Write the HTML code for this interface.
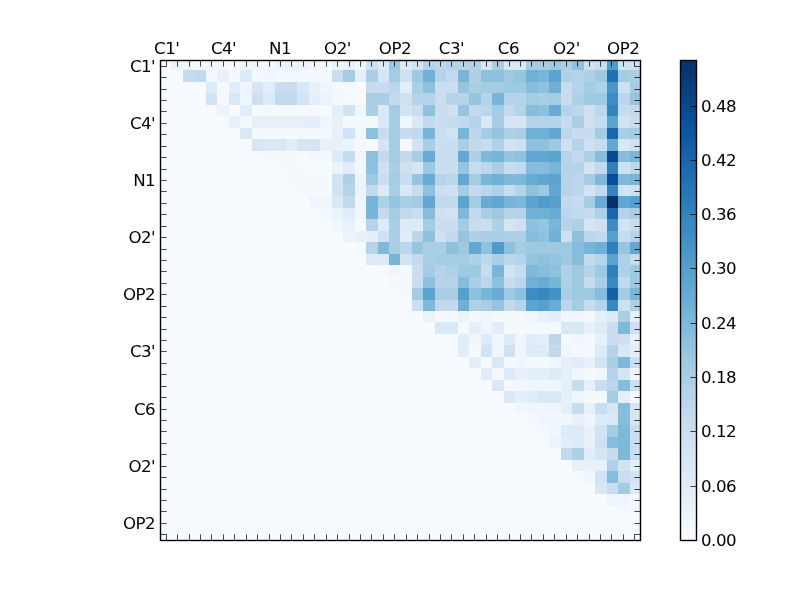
<!DOCTYPE html>
<html><head><meta charset="utf-8"><title>Contact map</title>
<style>
html,body{margin:0;padding:0;background:#fff;}
body{width:800px;height:600px;overflow:hidden;}
svg{display:block;}
text{font-family:"DejaVu Sans","Liberation Sans",sans-serif;font-size:16.67px;fill:#000;letter-spacing:-0.5px;}
</style></head>
<body>
<svg width="800" height="600" viewBox="0 0 800 600">
<defs><linearGradient id="cb" x1="0" y1="0" x2="0" y2="1"><stop offset="0.0000" stop-color="#08306b"/><stop offset="0.1250" stop-color="#08509b"/><stop offset="0.2500" stop-color="#2070b4"/><stop offset="0.3750" stop-color="#4191c6"/><stop offset="0.5000" stop-color="#6aaed6"/><stop offset="0.6250" stop-color="#9dcae1"/><stop offset="0.7500" stop-color="#c6dbef"/><stop offset="0.8750" stop-color="#deebf7"/><stop offset="1.0000" stop-color="#f7fbff"/></linearGradient></defs>
<rect width="800" height="600" fill="#ffffff"/>
<g shape-rendering="crispEdges">
<rect x="160" y="60" width="480" height="480" fill="#f7fbff"/>
<rect x="171" y="60" width="12" height="10" fill="#ecf4fb"/>
<rect x="183" y="60" width="11" height="10" fill="#f0f6fd"/>
<rect x="194" y="60" width="12" height="10" fill="#f4f9fe"/>
<rect x="206" y="60" width="11" height="10" fill="#f0f6fd"/>
<rect x="217" y="60" width="23" height="10" fill="#f4f9fe"/>
<rect x="240" y="60" width="23" height="10" fill="#f0f6fd"/>
<rect x="263" y="60" width="12" height="10" fill="#f4f9fe"/>
<rect x="275" y="60" width="34" height="10" fill="#ecf4fb"/>
<rect x="309" y="60" width="11" height="10" fill="#f0f6fd"/>
<rect x="320" y="60" width="12" height="10" fill="#f4f9fe"/>
<rect x="332" y="60" width="11" height="10" fill="#ecf4fb"/>
<rect x="343" y="60" width="12" height="10" fill="#e8f1fa"/>
<rect x="355" y="60" width="11" height="10" fill="#f0f6fd"/>
<rect x="366" y="60" width="12" height="10" fill="#cee0f2"/>
<rect x="378" y="60" width="11" height="10" fill="#ddeaf7"/>
<rect x="389" y="60" width="11" height="10" fill="#9dcae1"/>
<rect x="400" y="60" width="12" height="10" fill="#ddeaf7"/>
<rect x="412" y="60" width="11" height="10" fill="#d2e3f3"/>
<rect x="423" y="60" width="12" height="10" fill="#b5d4e9"/>
<rect x="435" y="60" width="11" height="10" fill="#bcd7eb"/>
<rect x="446" y="60" width="23" height="10" fill="#b5d4e9"/>
<rect x="469" y="60" width="12" height="10" fill="#afd1e7"/>
<rect x="481" y="60" width="11" height="10" fill="#d6e5f4"/>
<rect x="492" y="60" width="12" height="10" fill="#aacfe5"/>
<rect x="504" y="60" width="22" height="10" fill="#d9e8f5"/>
<rect x="526" y="60" width="23" height="10" fill="#a4cce3"/>
<rect x="549" y="60" width="12" height="10" fill="#9dcae1"/>
<rect x="561" y="60" width="11" height="10" fill="#aacfe5"/>
<rect x="572" y="60" width="12" height="10" fill="#8dc1dd"/>
<rect x="584" y="60" width="11" height="10" fill="#cee0f2"/>
<rect x="595" y="60" width="12" height="10" fill="#c7dcef"/>
<rect x="607" y="60" width="11" height="10" fill="#4f9bcb"/>
<rect x="618" y="60" width="23" height="10" fill="#cee0f2"/>
<rect x="183" y="70" width="11" height="12" fill="#c7dcef"/>
<rect x="194" y="70" width="12" height="12" fill="#c2d9ee"/>
<rect x="206" y="70" width="11" height="12" fill="#f4f9fe"/>
<rect x="217" y="70" width="12" height="12" fill="#e8f1fa"/>
<rect x="229" y="70" width="11" height="12" fill="#f4f9fe"/>
<rect x="240" y="70" width="12" height="12" fill="#ddeaf7"/>
<rect x="252" y="70" width="11" height="12" fill="#f4f9fe"/>
<rect x="263" y="70" width="12" height="12" fill="#f0f6fd"/>
<rect x="275" y="70" width="57" height="12" fill="#f4f9fe"/>
<rect x="332" y="70" width="11" height="12" fill="#cbdef1"/>
<rect x="343" y="70" width="12" height="12" fill="#a4cce3"/>
<rect x="355" y="70" width="11" height="12" fill="#e4eff9"/>
<rect x="366" y="70" width="12" height="12" fill="#aacfe5"/>
<rect x="378" y="70" width="11" height="12" fill="#d6e5f4"/>
<rect x="389" y="70" width="11" height="12" fill="#a4cce3"/>
<rect x="400" y="70" width="12" height="12" fill="#cee0f2"/>
<rect x="412" y="70" width="11" height="12" fill="#9dcae1"/>
<rect x="423" y="70" width="12" height="12" fill="#6fb0d7"/>
<rect x="435" y="70" width="11" height="12" fill="#b5d4e9"/>
<rect x="446" y="70" width="12" height="12" fill="#c2d9ee"/>
<rect x="458" y="70" width="11" height="12" fill="#77b5d9"/>
<rect x="469" y="70" width="12" height="12" fill="#afd1e7"/>
<rect x="481" y="70" width="23" height="12" fill="#8dc1dd"/>
<rect x="504" y="70" width="11" height="12" fill="#9dcae1"/>
<rect x="515" y="70" width="11" height="12" fill="#95c5df"/>
<rect x="526" y="70" width="12" height="12" fill="#6fb0d7"/>
<rect x="538" y="70" width="11" height="12" fill="#77b5d9"/>
<rect x="549" y="70" width="12" height="12" fill="#5ca4d0"/>
<rect x="561" y="70" width="11" height="12" fill="#afd1e7"/>
<rect x="572" y="70" width="12" height="12" fill="#b5d4e9"/>
<rect x="584" y="70" width="11" height="12" fill="#afd1e7"/>
<rect x="595" y="70" width="12" height="12" fill="#9dcae1"/>
<rect x="607" y="70" width="11" height="12" fill="#2070b4"/>
<rect x="618" y="70" width="12" height="12" fill="#a4cce3"/>
<rect x="630" y="70" width="11" height="12" fill="#aacfe5"/>
<rect x="206" y="82" width="11" height="11" fill="#ddeaf7"/>
<rect x="217" y="82" width="12" height="11" fill="#f4f9fe"/>
<rect x="229" y="82" width="11" height="11" fill="#e1edf8"/>
<rect x="240" y="82" width="12" height="11" fill="#f0f6fd"/>
<rect x="252" y="82" width="11" height="11" fill="#d6e5f4"/>
<rect x="263" y="82" width="12" height="11" fill="#e1edf8"/>
<rect x="275" y="82" width="11" height="11" fill="#cbdef1"/>
<rect x="286" y="82" width="11" height="11" fill="#c7dcef"/>
<rect x="297" y="82" width="12" height="11" fill="#d9e8f5"/>
<rect x="309" y="82" width="11" height="11" fill="#e8f1fa"/>
<rect x="320" y="82" width="12" height="11" fill="#f0f6fd"/>
<rect x="332" y="82" width="23" height="11" fill="#f4f9fe"/>
<rect x="366" y="82" width="23" height="11" fill="#c7dcef"/>
<rect x="389" y="82" width="11" height="11" fill="#bcd7eb"/>
<rect x="400" y="82" width="12" height="11" fill="#e1edf8"/>
<rect x="412" y="82" width="11" height="11" fill="#aacfe5"/>
<rect x="423" y="82" width="12" height="11" fill="#8dc1dd"/>
<rect x="435" y="82" width="23" height="11" fill="#cbdef1"/>
<rect x="458" y="82" width="11" height="11" fill="#95c5df"/>
<rect x="469" y="82" width="12" height="11" fill="#aacfe5"/>
<rect x="481" y="82" width="23" height="11" fill="#a4cce3"/>
<rect x="504" y="82" width="22" height="11" fill="#9dcae1"/>
<rect x="526" y="82" width="12" height="11" fill="#87bddc"/>
<rect x="538" y="82" width="11" height="11" fill="#8dc1dd"/>
<rect x="549" y="82" width="12" height="11" fill="#6fb0d7"/>
<rect x="561" y="82" width="11" height="11" fill="#c7dcef"/>
<rect x="572" y="82" width="12" height="11" fill="#b5d4e9"/>
<rect x="584" y="82" width="11" height="11" fill="#a4cce3"/>
<rect x="595" y="82" width="12" height="11" fill="#afd1e7"/>
<rect x="607" y="82" width="11" height="11" fill="#4997c9"/>
<rect x="618" y="82" width="12" height="11" fill="#cee0f2"/>
<rect x="630" y="82" width="11" height="11" fill="#a4cce3"/>
<rect x="206" y="93" width="11" height="12" fill="#d2e3f3"/>
<rect x="217" y="93" width="12" height="12" fill="#f4f9fe"/>
<rect x="229" y="93" width="11" height="12" fill="#d9e8f5"/>
<rect x="240" y="93" width="12" height="12" fill="#f0f6fd"/>
<rect x="252" y="93" width="11" height="12" fill="#cee0f2"/>
<rect x="263" y="93" width="12" height="12" fill="#ddeaf7"/>
<rect x="275" y="93" width="22" height="12" fill="#c2d9ee"/>
<rect x="297" y="93" width="12" height="12" fill="#d2e3f3"/>
<rect x="309" y="93" width="11" height="12" fill="#e4eff9"/>
<rect x="320" y="93" width="12" height="12" fill="#ecf4fb"/>
<rect x="332" y="93" width="11" height="12" fill="#f4f9fe"/>
<rect x="366" y="93" width="23" height="12" fill="#aacfe5"/>
<rect x="389" y="93" width="11" height="12" fill="#c2d9ee"/>
<rect x="400" y="93" width="12" height="12" fill="#cee0f2"/>
<rect x="412" y="93" width="23" height="12" fill="#b5d4e9"/>
<rect x="435" y="93" width="11" height="12" fill="#cbdef1"/>
<rect x="446" y="93" width="23" height="12" fill="#b5d4e9"/>
<rect x="469" y="93" width="12" height="12" fill="#95c5df"/>
<rect x="481" y="93" width="11" height="12" fill="#b5d4e9"/>
<rect x="492" y="93" width="12" height="12" fill="#77b5d9"/>
<rect x="504" y="93" width="22" height="12" fill="#b5d4e9"/>
<rect x="526" y="93" width="12" height="12" fill="#a4cce3"/>
<rect x="538" y="93" width="11" height="12" fill="#aacfe5"/>
<rect x="549" y="93" width="12" height="12" fill="#a4cce3"/>
<rect x="561" y="93" width="11" height="12" fill="#c7dcef"/>
<rect x="572" y="93" width="12" height="12" fill="#afd1e7"/>
<rect x="584" y="93" width="23" height="12" fill="#9dcae1"/>
<rect x="607" y="93" width="11" height="12" fill="#3d8dc4"/>
<rect x="618" y="93" width="12" height="12" fill="#bcd7eb"/>
<rect x="630" y="93" width="11" height="12" fill="#95c5df"/>
<rect x="217" y="105" width="12" height="11" fill="#ecf4fb"/>
<rect x="240" y="105" width="12" height="11" fill="#e1edf8"/>
<rect x="252" y="105" width="68" height="11" fill="#f4f9fe"/>
<rect x="332" y="105" width="11" height="11" fill="#e4eff9"/>
<rect x="343" y="105" width="12" height="11" fill="#d2e3f3"/>
<rect x="355" y="105" width="11" height="11" fill="#f0f6fd"/>
<rect x="366" y="105" width="12" height="11" fill="#aacfe5"/>
<rect x="378" y="105" width="11" height="11" fill="#d9e8f5"/>
<rect x="389" y="105" width="11" height="11" fill="#a4cce3"/>
<rect x="400" y="105" width="12" height="11" fill="#d2e3f3"/>
<rect x="412" y="105" width="11" height="11" fill="#cbdef1"/>
<rect x="423" y="105" width="12" height="11" fill="#8dc1dd"/>
<rect x="435" y="105" width="11" height="11" fill="#cbdef1"/>
<rect x="446" y="105" width="12" height="11" fill="#cee0f2"/>
<rect x="458" y="105" width="11" height="11" fill="#95c5df"/>
<rect x="469" y="105" width="12" height="11" fill="#c2d9ee"/>
<rect x="481" y="105" width="11" height="11" fill="#bcd7eb"/>
<rect x="492" y="105" width="12" height="11" fill="#a4cce3"/>
<rect x="504" y="105" width="11" height="11" fill="#c2d9ee"/>
<rect x="515" y="105" width="11" height="11" fill="#b5d4e9"/>
<rect x="526" y="105" width="12" height="11" fill="#87bddc"/>
<rect x="538" y="105" width="11" height="11" fill="#8dc1dd"/>
<rect x="549" y="105" width="12" height="11" fill="#68acd5"/>
<rect x="561" y="105" width="11" height="11" fill="#b5d4e9"/>
<rect x="572" y="105" width="12" height="11" fill="#bcd7eb"/>
<rect x="584" y="105" width="11" height="11" fill="#cee0f2"/>
<rect x="595" y="105" width="12" height="11" fill="#bcd7eb"/>
<rect x="607" y="105" width="11" height="11" fill="#3484bf"/>
<rect x="618" y="105" width="12" height="11" fill="#c7dcef"/>
<rect x="630" y="105" width="11" height="11" fill="#c2d9ee"/>
<rect x="229" y="116" width="11" height="12" fill="#e8f1fa"/>
<rect x="240" y="116" width="12" height="12" fill="#f4f9fe"/>
<rect x="252" y="116" width="45" height="12" fill="#e8f1fa"/>
<rect x="297" y="116" width="23" height="12" fill="#e4eff9"/>
<rect x="320" y="116" width="12" height="12" fill="#f0f6fd"/>
<rect x="332" y="116" width="11" height="12" fill="#e8f1fa"/>
<rect x="343" y="116" width="35" height="12" fill="#f4f9fe"/>
<rect x="378" y="116" width="11" height="12" fill="#d9e8f5"/>
<rect x="389" y="116" width="11" height="12" fill="#a4cce3"/>
<rect x="400" y="116" width="12" height="12" fill="#f0f6fd"/>
<rect x="412" y="116" width="11" height="12" fill="#d9e8f5"/>
<rect x="423" y="116" width="12" height="12" fill="#c2d9ee"/>
<rect x="435" y="116" width="11" height="12" fill="#cbdef1"/>
<rect x="446" y="116" width="12" height="12" fill="#c7dcef"/>
<rect x="458" y="116" width="11" height="12" fill="#c2d9ee"/>
<rect x="469" y="116" width="12" height="12" fill="#b5d4e9"/>
<rect x="481" y="116" width="11" height="12" fill="#d9e8f5"/>
<rect x="492" y="116" width="12" height="12" fill="#a4cce3"/>
<rect x="504" y="116" width="22" height="12" fill="#d6e5f4"/>
<rect x="526" y="116" width="35" height="12" fill="#b5d4e9"/>
<rect x="561" y="116" width="11" height="12" fill="#c7dcef"/>
<rect x="572" y="116" width="12" height="12" fill="#aacfe5"/>
<rect x="584" y="116" width="11" height="12" fill="#cee0f2"/>
<rect x="595" y="116" width="12" height="12" fill="#c7dcef"/>
<rect x="607" y="116" width="11" height="12" fill="#5ca4d0"/>
<rect x="618" y="116" width="12" height="12" fill="#d2e3f3"/>
<rect x="630" y="116" width="11" height="12" fill="#c7dcef"/>
<rect x="240" y="128" width="12" height="11" fill="#d9e8f5"/>
<rect x="252" y="128" width="80" height="11" fill="#f4f9fe"/>
<rect x="332" y="128" width="11" height="11" fill="#e8f1fa"/>
<rect x="343" y="128" width="12" height="11" fill="#d2e3f3"/>
<rect x="355" y="128" width="11" height="11" fill="#f0f6fd"/>
<rect x="366" y="128" width="12" height="11" fill="#8dc1dd"/>
<rect x="378" y="128" width="11" height="11" fill="#c7dcef"/>
<rect x="389" y="128" width="11" height="11" fill="#a4cce3"/>
<rect x="400" y="128" width="12" height="11" fill="#c7dcef"/>
<rect x="412" y="128" width="11" height="11" fill="#c2d9ee"/>
<rect x="423" y="128" width="12" height="11" fill="#77b5d9"/>
<rect x="435" y="128" width="11" height="11" fill="#cbdef1"/>
<rect x="446" y="128" width="12" height="11" fill="#d2e3f3"/>
<rect x="458" y="128" width="11" height="11" fill="#77b5d9"/>
<rect x="469" y="128" width="12" height="11" fill="#bcd7eb"/>
<rect x="481" y="128" width="11" height="11" fill="#a4cce3"/>
<rect x="492" y="128" width="12" height="11" fill="#95c5df"/>
<rect x="504" y="128" width="11" height="11" fill="#afd1e7"/>
<rect x="515" y="128" width="11" height="11" fill="#aacfe5"/>
<rect x="526" y="128" width="23" height="11" fill="#6fb0d7"/>
<rect x="549" y="128" width="12" height="11" fill="#61a7d2"/>
<rect x="561" y="128" width="11" height="11" fill="#bcd7eb"/>
<rect x="572" y="128" width="23" height="11" fill="#c7dcef"/>
<rect x="595" y="128" width="12" height="11" fill="#a4cce3"/>
<rect x="607" y="128" width="11" height="11" fill="#1966ad"/>
<rect x="618" y="128" width="12" height="11" fill="#aacfe5"/>
<rect x="630" y="128" width="11" height="11" fill="#a4cce3"/>
<rect x="252" y="139" width="11" height="12" fill="#d6e5f4"/>
<rect x="263" y="139" width="23" height="12" fill="#d9e8f5"/>
<rect x="286" y="139" width="11" height="12" fill="#e1edf8"/>
<rect x="297" y="139" width="23" height="12" fill="#d6e5f4"/>
<rect x="320" y="139" width="23" height="12" fill="#e8f1fa"/>
<rect x="343" y="139" width="12" height="12" fill="#ecf4fb"/>
<rect x="355" y="139" width="11" height="12" fill="#f4f9fe"/>
<rect x="378" y="139" width="11" height="12" fill="#d6e5f4"/>
<rect x="389" y="139" width="11" height="12" fill="#a4cce3"/>
<rect x="400" y="139" width="12" height="12" fill="#f4f9fe"/>
<rect x="412" y="139" width="11" height="12" fill="#d2e3f3"/>
<rect x="423" y="139" width="12" height="12" fill="#aacfe5"/>
<rect x="435" y="139" width="23" height="12" fill="#cbdef1"/>
<rect x="458" y="139" width="11" height="12" fill="#aacfe5"/>
<rect x="469" y="139" width="12" height="12" fill="#c2d9ee"/>
<rect x="481" y="139" width="11" height="12" fill="#c7dcef"/>
<rect x="492" y="139" width="12" height="12" fill="#afd1e7"/>
<rect x="504" y="139" width="11" height="12" fill="#d2e3f3"/>
<rect x="515" y="139" width="11" height="12" fill="#cee0f2"/>
<rect x="526" y="139" width="23" height="12" fill="#8dc1dd"/>
<rect x="549" y="139" width="12" height="12" fill="#9dcae1"/>
<rect x="561" y="139" width="11" height="12" fill="#cee0f2"/>
<rect x="572" y="139" width="12" height="12" fill="#b5d4e9"/>
<rect x="584" y="139" width="11" height="12" fill="#cee0f2"/>
<rect x="595" y="139" width="12" height="12" fill="#c7dcef"/>
<rect x="607" y="139" width="11" height="12" fill="#61a7d2"/>
<rect x="618" y="139" width="12" height="12" fill="#d9e8f5"/>
<rect x="630" y="139" width="11" height="12" fill="#cee0f2"/>
<rect x="263" y="151" width="34" height="11" fill="#f4f9fe"/>
<rect x="309" y="151" width="23" height="11" fill="#f4f9fe"/>
<rect x="332" y="151" width="11" height="11" fill="#ddeaf7"/>
<rect x="343" y="151" width="12" height="11" fill="#c7dcef"/>
<rect x="355" y="151" width="11" height="11" fill="#f0f6fd"/>
<rect x="366" y="151" width="12" height="11" fill="#8dc1dd"/>
<rect x="378" y="151" width="11" height="11" fill="#c2d9ee"/>
<rect x="389" y="151" width="11" height="11" fill="#a4cce3"/>
<rect x="400" y="151" width="12" height="11" fill="#c2d9ee"/>
<rect x="412" y="151" width="11" height="11" fill="#aacfe5"/>
<rect x="423" y="151" width="12" height="11" fill="#68acd5"/>
<rect x="435" y="151" width="11" height="11" fill="#c7dcef"/>
<rect x="446" y="151" width="12" height="11" fill="#cbdef1"/>
<rect x="458" y="151" width="11" height="11" fill="#61a7d2"/>
<rect x="469" y="151" width="12" height="11" fill="#afd1e7"/>
<rect x="481" y="151" width="11" height="11" fill="#7fb9da"/>
<rect x="492" y="151" width="12" height="11" fill="#77b5d9"/>
<rect x="504" y="151" width="11" height="11" fill="#95c5df"/>
<rect x="515" y="151" width="11" height="11" fill="#8dc1dd"/>
<rect x="526" y="151" width="23" height="11" fill="#61a7d2"/>
<rect x="549" y="151" width="12" height="11" fill="#5ca4d0"/>
<rect x="561" y="151" width="11" height="11" fill="#b5d4e9"/>
<rect x="572" y="151" width="12" height="11" fill="#c2d9ee"/>
<rect x="584" y="151" width="11" height="11" fill="#afd1e7"/>
<rect x="595" y="151" width="12" height="11" fill="#87bddc"/>
<rect x="607" y="151" width="11" height="11" fill="#084990"/>
<rect x="618" y="151" width="12" height="11" fill="#87bddc"/>
<rect x="630" y="151" width="11" height="11" fill="#77b5d9"/>
<rect x="275" y="162" width="34" height="12" fill="#f4f9fe"/>
<rect x="332" y="162" width="11" height="12" fill="#ecf4fb"/>
<rect x="343" y="162" width="12" height="12" fill="#e1edf8"/>
<rect x="355" y="162" width="11" height="12" fill="#f0f6fd"/>
<rect x="366" y="162" width="12" height="12" fill="#8dc1dd"/>
<rect x="378" y="162" width="11" height="12" fill="#cee0f2"/>
<rect x="389" y="162" width="11" height="12" fill="#aacfe5"/>
<rect x="400" y="162" width="12" height="12" fill="#cee0f2"/>
<rect x="412" y="162" width="11" height="12" fill="#d6e5f4"/>
<rect x="423" y="162" width="12" height="12" fill="#9dcae1"/>
<rect x="435" y="162" width="23" height="12" fill="#cbdef1"/>
<rect x="458" y="162" width="11" height="12" fill="#95c5df"/>
<rect x="469" y="162" width="12" height="12" fill="#c7dcef"/>
<rect x="481" y="162" width="11" height="12" fill="#bcd7eb"/>
<rect x="492" y="162" width="12" height="12" fill="#aacfe5"/>
<rect x="504" y="162" width="11" height="12" fill="#c7dcef"/>
<rect x="515" y="162" width="11" height="12" fill="#c2d9ee"/>
<rect x="526" y="162" width="23" height="12" fill="#87bddc"/>
<rect x="549" y="162" width="12" height="12" fill="#77b5d9"/>
<rect x="561" y="162" width="23" height="12" fill="#b5d4e9"/>
<rect x="584" y="162" width="11" height="12" fill="#d2e3f3"/>
<rect x="595" y="162" width="12" height="12" fill="#c2d9ee"/>
<rect x="607" y="162" width="11" height="12" fill="#2f7fbc"/>
<rect x="618" y="162" width="12" height="12" fill="#cee0f2"/>
<rect x="630" y="162" width="11" height="12" fill="#bcd7eb"/>
<rect x="286" y="174" width="46" height="11" fill="#f4f9fe"/>
<rect x="332" y="174" width="11" height="11" fill="#d2e3f3"/>
<rect x="343" y="174" width="12" height="11" fill="#afd1e7"/>
<rect x="355" y="174" width="11" height="11" fill="#ecf4fb"/>
<rect x="366" y="174" width="12" height="11" fill="#9dcae1"/>
<rect x="378" y="174" width="11" height="11" fill="#cbdef1"/>
<rect x="389" y="174" width="11" height="11" fill="#a4cce3"/>
<rect x="400" y="174" width="12" height="11" fill="#cbdef1"/>
<rect x="412" y="174" width="11" height="11" fill="#95c5df"/>
<rect x="423" y="174" width="12" height="11" fill="#68acd5"/>
<rect x="435" y="174" width="11" height="11" fill="#b5d4e9"/>
<rect x="446" y="174" width="12" height="11" fill="#bcd7eb"/>
<rect x="458" y="174" width="11" height="11" fill="#61a7d2"/>
<rect x="469" y="174" width="12" height="11" fill="#a4cce3"/>
<rect x="481" y="174" width="11" height="11" fill="#77b5d9"/>
<rect x="492" y="174" width="12" height="11" fill="#6fb0d7"/>
<rect x="504" y="174" width="22" height="11" fill="#7fb9da"/>
<rect x="526" y="174" width="12" height="11" fill="#68acd5"/>
<rect x="538" y="174" width="11" height="11" fill="#61a7d2"/>
<rect x="549" y="174" width="12" height="11" fill="#5ca4d0"/>
<rect x="561" y="174" width="11" height="11" fill="#b5d4e9"/>
<rect x="572" y="174" width="12" height="11" fill="#bcd7eb"/>
<rect x="584" y="174" width="11" height="11" fill="#a4cce3"/>
<rect x="595" y="174" width="12" height="11" fill="#7fb9da"/>
<rect x="607" y="174" width="11" height="11" fill="#084e98"/>
<rect x="618" y="174" width="12" height="11" fill="#7fb9da"/>
<rect x="630" y="174" width="11" height="11" fill="#77b5d9"/>
<rect x="297" y="185" width="35" height="11" fill="#f4f9fe"/>
<rect x="332" y="185" width="11" height="11" fill="#d2e3f3"/>
<rect x="343" y="185" width="12" height="11" fill="#b5d4e9"/>
<rect x="355" y="185" width="11" height="11" fill="#ecf4fb"/>
<rect x="366" y="185" width="12" height="11" fill="#c2d9ee"/>
<rect x="378" y="185" width="11" height="11" fill="#ddeaf7"/>
<rect x="389" y="185" width="11" height="11" fill="#aacfe5"/>
<rect x="400" y="185" width="12" height="11" fill="#d9e8f5"/>
<rect x="412" y="185" width="11" height="11" fill="#c7dcef"/>
<rect x="423" y="185" width="12" height="11" fill="#8dc1dd"/>
<rect x="435" y="185" width="11" height="11" fill="#cbdef1"/>
<rect x="446" y="185" width="12" height="11" fill="#cee0f2"/>
<rect x="458" y="185" width="11" height="11" fill="#a4cce3"/>
<rect x="469" y="185" width="12" height="11" fill="#c2d9ee"/>
<rect x="481" y="185" width="11" height="11" fill="#bcd7eb"/>
<rect x="492" y="185" width="12" height="11" fill="#afd1e7"/>
<rect x="504" y="185" width="11" height="11" fill="#c7dcef"/>
<rect x="515" y="185" width="11" height="11" fill="#b5d4e9"/>
<rect x="526" y="185" width="12" height="11" fill="#8dc1dd"/>
<rect x="538" y="185" width="11" height="11" fill="#9dcae1"/>
<rect x="549" y="185" width="12" height="11" fill="#61a7d2"/>
<rect x="561" y="185" width="11" height="11" fill="#b5d4e9"/>
<rect x="572" y="185" width="12" height="11" fill="#bcd7eb"/>
<rect x="584" y="185" width="11" height="11" fill="#d2e3f3"/>
<rect x="595" y="185" width="12" height="11" fill="#c2d9ee"/>
<rect x="607" y="185" width="11" height="11" fill="#3484bf"/>
<rect x="618" y="185" width="12" height="11" fill="#d2e3f3"/>
<rect x="630" y="185" width="11" height="11" fill="#cee0f2"/>
<rect x="309" y="196" width="23" height="12" fill="#f0f6fd"/>
<rect x="332" y="196" width="11" height="12" fill="#d9e8f5"/>
<rect x="343" y="196" width="12" height="12" fill="#c2d9ee"/>
<rect x="355" y="196" width="11" height="12" fill="#f0f6fd"/>
<rect x="366" y="196" width="12" height="12" fill="#77b5d9"/>
<rect x="378" y="196" width="11" height="12" fill="#afd1e7"/>
<rect x="389" y="196" width="11" height="12" fill="#95c5df"/>
<rect x="400" y="196" width="12" height="12" fill="#aacfe5"/>
<rect x="412" y="196" width="11" height="12" fill="#a4cce3"/>
<rect x="423" y="196" width="12" height="12" fill="#61a7d2"/>
<rect x="435" y="196" width="23" height="12" fill="#c2d9ee"/>
<rect x="458" y="196" width="11" height="12" fill="#5ca4d0"/>
<rect x="469" y="196" width="12" height="12" fill="#a4cce3"/>
<rect x="481" y="196" width="11" height="12" fill="#68acd5"/>
<rect x="492" y="196" width="12" height="12" fill="#61a7d2"/>
<rect x="504" y="196" width="11" height="12" fill="#77b5d9"/>
<rect x="515" y="196" width="11" height="12" fill="#7fb9da"/>
<rect x="526" y="196" width="12" height="12" fill="#5ca4d0"/>
<rect x="538" y="196" width="11" height="12" fill="#4f9bcb"/>
<rect x="549" y="196" width="12" height="12" fill="#56a0ce"/>
<rect x="561" y="196" width="11" height="12" fill="#c2d9ee"/>
<rect x="572" y="196" width="12" height="12" fill="#c7dcef"/>
<rect x="584" y="196" width="11" height="12" fill="#a4cce3"/>
<rect x="595" y="196" width="12" height="12" fill="#68acd5"/>
<rect x="607" y="196" width="11" height="12" fill="#08306b"/>
<rect x="618" y="196" width="12" height="12" fill="#61a7d2"/>
<rect x="630" y="196" width="11" height="12" fill="#56a0ce"/>
<rect x="320" y="208" width="12" height="11" fill="#f4f9fe"/>
<rect x="332" y="208" width="11" height="11" fill="#ecf4fb"/>
<rect x="343" y="208" width="12" height="11" fill="#e1edf8"/>
<rect x="355" y="208" width="11" height="11" fill="#f0f6fd"/>
<rect x="366" y="208" width="12" height="11" fill="#77b5d9"/>
<rect x="378" y="208" width="11" height="11" fill="#c2d9ee"/>
<rect x="389" y="208" width="11" height="11" fill="#a4cce3"/>
<rect x="400" y="208" width="12" height="11" fill="#c2d9ee"/>
<rect x="412" y="208" width="11" height="11" fill="#cbdef1"/>
<rect x="423" y="208" width="12" height="11" fill="#87bddc"/>
<rect x="435" y="208" width="11" height="11" fill="#cee0f2"/>
<rect x="446" y="208" width="12" height="11" fill="#d2e3f3"/>
<rect x="458" y="208" width="11" height="11" fill="#7fb9da"/>
<rect x="469" y="208" width="12" height="11" fill="#c2d9ee"/>
<rect x="481" y="208" width="11" height="11" fill="#aacfe5"/>
<rect x="492" y="208" width="12" height="11" fill="#9dcae1"/>
<rect x="504" y="208" width="22" height="11" fill="#b5d4e9"/>
<rect x="526" y="208" width="23" height="11" fill="#6fb0d7"/>
<rect x="549" y="208" width="12" height="11" fill="#68acd5"/>
<rect x="561" y="208" width="11" height="11" fill="#bcd7eb"/>
<rect x="572" y="208" width="12" height="11" fill="#c2d9ee"/>
<rect x="584" y="208" width="11" height="11" fill="#c7dcef"/>
<rect x="595" y="208" width="12" height="11" fill="#afd1e7"/>
<rect x="607" y="208" width="11" height="11" fill="#1966ad"/>
<rect x="618" y="208" width="12" height="11" fill="#b5d4e9"/>
<rect x="630" y="208" width="11" height="11" fill="#aacfe5"/>
<rect x="332" y="219" width="11" height="12" fill="#f0f6fd"/>
<rect x="343" y="219" width="12" height="12" fill="#e8f1fa"/>
<rect x="355" y="219" width="11" height="12" fill="#f4f9fe"/>
<rect x="366" y="219" width="12" height="12" fill="#b5d4e9"/>
<rect x="378" y="219" width="11" height="12" fill="#ddeaf7"/>
<rect x="389" y="219" width="11" height="12" fill="#aacfe5"/>
<rect x="400" y="219" width="23" height="12" fill="#ddeaf7"/>
<rect x="423" y="219" width="12" height="12" fill="#a4cce3"/>
<rect x="435" y="219" width="23" height="12" fill="#cbdef1"/>
<rect x="458" y="219" width="11" height="12" fill="#a4cce3"/>
<rect x="469" y="219" width="12" height="12" fill="#c7dcef"/>
<rect x="481" y="219" width="11" height="12" fill="#cbdef1"/>
<rect x="492" y="219" width="12" height="12" fill="#afd1e7"/>
<rect x="504" y="219" width="11" height="12" fill="#d6e5f4"/>
<rect x="515" y="219" width="11" height="12" fill="#cee0f2"/>
<rect x="526" y="219" width="12" height="12" fill="#8dc1dd"/>
<rect x="538" y="219" width="11" height="12" fill="#95c5df"/>
<rect x="549" y="219" width="12" height="12" fill="#77b5d9"/>
<rect x="561" y="219" width="11" height="12" fill="#b5d4e9"/>
<rect x="572" y="219" width="12" height="12" fill="#afd1e7"/>
<rect x="584" y="219" width="11" height="12" fill="#d6e5f4"/>
<rect x="595" y="219" width="12" height="12" fill="#cee0f2"/>
<rect x="607" y="219" width="11" height="12" fill="#3d8dc4"/>
<rect x="618" y="219" width="12" height="12" fill="#d2e3f3"/>
<rect x="630" y="219" width="11" height="12" fill="#c7dcef"/>
<rect x="343" y="231" width="12" height="11" fill="#ecf4fb"/>
<rect x="355" y="231" width="11" height="11" fill="#e8f1fa"/>
<rect x="366" y="231" width="12" height="11" fill="#e4eff9"/>
<rect x="378" y="231" width="11" height="11" fill="#cee0f2"/>
<rect x="389" y="231" width="11" height="11" fill="#aacfe5"/>
<rect x="400" y="231" width="12" height="11" fill="#e1edf8"/>
<rect x="412" y="231" width="11" height="11" fill="#bcd7eb"/>
<rect x="423" y="231" width="12" height="11" fill="#8dc1dd"/>
<rect x="435" y="231" width="11" height="11" fill="#cee0f2"/>
<rect x="446" y="231" width="12" height="11" fill="#c2d9ee"/>
<rect x="458" y="231" width="11" height="11" fill="#95c5df"/>
<rect x="469" y="231" width="12" height="11" fill="#afd1e7"/>
<rect x="481" y="231" width="23" height="11" fill="#aacfe5"/>
<rect x="504" y="231" width="22" height="11" fill="#afd1e7"/>
<rect x="526" y="231" width="12" height="11" fill="#87bddc"/>
<rect x="538" y="231" width="11" height="11" fill="#8dc1dd"/>
<rect x="549" y="231" width="12" height="11" fill="#6fb0d7"/>
<rect x="561" y="231" width="11" height="11" fill="#cee0f2"/>
<rect x="572" y="231" width="12" height="11" fill="#8dc1dd"/>
<rect x="584" y="231" width="11" height="11" fill="#bcd7eb"/>
<rect x="595" y="231" width="12" height="11" fill="#c2d9ee"/>
<rect x="607" y="231" width="11" height="11" fill="#56a0ce"/>
<rect x="618" y="231" width="12" height="11" fill="#c7dcef"/>
<rect x="630" y="231" width="11" height="11" fill="#b5d4e9"/>
<rect x="355" y="242" width="11" height="12" fill="#f4f9fe"/>
<rect x="366" y="242" width="12" height="12" fill="#b5d4e9"/>
<rect x="378" y="242" width="11" height="12" fill="#7fb9da"/>
<rect x="389" y="242" width="11" height="12" fill="#aacfe5"/>
<rect x="400" y="242" width="12" height="12" fill="#bcd7eb"/>
<rect x="412" y="242" width="11" height="12" fill="#95c5df"/>
<rect x="423" y="242" width="23" height="12" fill="#aacfe5"/>
<rect x="446" y="242" width="12" height="12" fill="#8dc1dd"/>
<rect x="458" y="242" width="11" height="12" fill="#9dcae1"/>
<rect x="469" y="242" width="12" height="12" fill="#61a7d2"/>
<rect x="481" y="242" width="11" height="12" fill="#8dc1dd"/>
<rect x="492" y="242" width="12" height="12" fill="#4f9bcb"/>
<rect x="504" y="242" width="11" height="12" fill="#8dc1dd"/>
<rect x="515" y="242" width="11" height="12" fill="#a4cce3"/>
<rect x="526" y="242" width="46" height="12" fill="#9dcae1"/>
<rect x="572" y="242" width="12" height="12" fill="#87bddc"/>
<rect x="584" y="242" width="11" height="12" fill="#77b5d9"/>
<rect x="595" y="242" width="12" height="12" fill="#6fb0d7"/>
<rect x="607" y="242" width="11" height="12" fill="#2f7fbc"/>
<rect x="618" y="242" width="12" height="12" fill="#95c5df"/>
<rect x="630" y="242" width="11" height="12" fill="#61a7d2"/>
<rect x="366" y="254" width="23" height="11" fill="#ddeaf7"/>
<rect x="389" y="254" width="11" height="11" fill="#77b5d9"/>
<rect x="400" y="254" width="12" height="11" fill="#d2e3f3"/>
<rect x="412" y="254" width="11" height="11" fill="#c2d9ee"/>
<rect x="423" y="254" width="12" height="11" fill="#aacfe5"/>
<rect x="435" y="254" width="34" height="11" fill="#a4cce3"/>
<rect x="469" y="254" width="12" height="11" fill="#afd1e7"/>
<rect x="481" y="254" width="11" height="11" fill="#bcd7eb"/>
<rect x="492" y="254" width="12" height="11" fill="#aacfe5"/>
<rect x="504" y="254" width="11" height="11" fill="#bcd7eb"/>
<rect x="515" y="254" width="11" height="11" fill="#b5d4e9"/>
<rect x="526" y="254" width="12" height="11" fill="#95c5df"/>
<rect x="538" y="254" width="11" height="11" fill="#8dc1dd"/>
<rect x="549" y="254" width="12" height="11" fill="#95c5df"/>
<rect x="561" y="254" width="11" height="11" fill="#9dcae1"/>
<rect x="572" y="254" width="12" height="11" fill="#87bddc"/>
<rect x="584" y="254" width="11" height="11" fill="#c2d9ee"/>
<rect x="595" y="254" width="12" height="11" fill="#b5d4e9"/>
<rect x="607" y="254" width="11" height="11" fill="#5ca4d0"/>
<rect x="618" y="254" width="12" height="11" fill="#afd1e7"/>
<rect x="630" y="254" width="11" height="11" fill="#c7dcef"/>
<rect x="378" y="265" width="11" height="12" fill="#f4f9fe"/>
<rect x="389" y="265" width="11" height="12" fill="#f0f6fd"/>
<rect x="400" y="265" width="12" height="12" fill="#f4f9fe"/>
<rect x="412" y="265" width="11" height="12" fill="#cbdef1"/>
<rect x="423" y="265" width="12" height="12" fill="#a4cce3"/>
<rect x="435" y="265" width="11" height="12" fill="#b5d4e9"/>
<rect x="446" y="265" width="12" height="12" fill="#afd1e7"/>
<rect x="458" y="265" width="23" height="12" fill="#9dcae1"/>
<rect x="481" y="265" width="11" height="12" fill="#c7dcef"/>
<rect x="492" y="265" width="12" height="12" fill="#77b5d9"/>
<rect x="504" y="265" width="11" height="12" fill="#d2e3f3"/>
<rect x="515" y="265" width="11" height="12" fill="#c7dcef"/>
<rect x="526" y="265" width="12" height="12" fill="#7fb9da"/>
<rect x="538" y="265" width="11" height="12" fill="#87bddc"/>
<rect x="549" y="265" width="12" height="12" fill="#8dc1dd"/>
<rect x="561" y="265" width="11" height="12" fill="#afd1e7"/>
<rect x="572" y="265" width="12" height="12" fill="#9dcae1"/>
<rect x="584" y="265" width="11" height="12" fill="#b5d4e9"/>
<rect x="595" y="265" width="12" height="12" fill="#9dcae1"/>
<rect x="607" y="265" width="11" height="12" fill="#2f7fbc"/>
<rect x="618" y="265" width="12" height="12" fill="#afd1e7"/>
<rect x="630" y="265" width="11" height="12" fill="#9dcae1"/>
<rect x="389" y="277" width="23" height="11" fill="#f4f9fe"/>
<rect x="412" y="277" width="11" height="11" fill="#cbdef1"/>
<rect x="423" y="277" width="12" height="11" fill="#8dc1dd"/>
<rect x="435" y="277" width="23" height="11" fill="#b5d4e9"/>
<rect x="458" y="277" width="11" height="11" fill="#87bddc"/>
<rect x="469" y="277" width="12" height="11" fill="#aacfe5"/>
<rect x="481" y="277" width="11" height="11" fill="#bcd7eb"/>
<rect x="492" y="277" width="12" height="11" fill="#8dc1dd"/>
<rect x="504" y="277" width="11" height="11" fill="#c7dcef"/>
<rect x="515" y="277" width="11" height="11" fill="#bcd7eb"/>
<rect x="526" y="277" width="12" height="11" fill="#6fb0d7"/>
<rect x="538" y="277" width="11" height="11" fill="#68acd5"/>
<rect x="549" y="277" width="12" height="11" fill="#77b5d9"/>
<rect x="561" y="277" width="11" height="11" fill="#afd1e7"/>
<rect x="572" y="277" width="12" height="11" fill="#9dcae1"/>
<rect x="584" y="277" width="11" height="11" fill="#c7dcef"/>
<rect x="595" y="277" width="12" height="11" fill="#aacfe5"/>
<rect x="607" y="277" width="11" height="11" fill="#3989c1"/>
<rect x="618" y="277" width="12" height="11" fill="#c2d9ee"/>
<rect x="630" y="277" width="11" height="11" fill="#9dcae1"/>
<rect x="400" y="288" width="12" height="12" fill="#f4f9fe"/>
<rect x="412" y="288" width="11" height="12" fill="#a4cce3"/>
<rect x="423" y="288" width="12" height="12" fill="#5ca4d0"/>
<rect x="435" y="288" width="23" height="12" fill="#aacfe5"/>
<rect x="458" y="288" width="11" height="12" fill="#56a0ce"/>
<rect x="469" y="288" width="12" height="12" fill="#8dc1dd"/>
<rect x="481" y="288" width="11" height="12" fill="#77b5d9"/>
<rect x="492" y="288" width="12" height="12" fill="#68acd5"/>
<rect x="504" y="288" width="11" height="12" fill="#9dcae1"/>
<rect x="515" y="288" width="11" height="12" fill="#8dc1dd"/>
<rect x="526" y="288" width="12" height="12" fill="#3d8dc4"/>
<rect x="538" y="288" width="11" height="12" fill="#3989c1"/>
<rect x="549" y="288" width="12" height="12" fill="#4292c6"/>
<rect x="561" y="288" width="11" height="12" fill="#aacfe5"/>
<rect x="572" y="288" width="23" height="12" fill="#9dcae1"/>
<rect x="595" y="288" width="12" height="12" fill="#87bddc"/>
<rect x="607" y="288" width="11" height="12" fill="#1561a9"/>
<rect x="618" y="288" width="12" height="12" fill="#a4cce3"/>
<rect x="630" y="288" width="11" height="12" fill="#77b5d9"/>
<rect x="412" y="300" width="11" height="11" fill="#cbdef1"/>
<rect x="423" y="300" width="12" height="11" fill="#7fb9da"/>
<rect x="435" y="300" width="23" height="11" fill="#c2d9ee"/>
<rect x="458" y="300" width="11" height="11" fill="#6fb0d7"/>
<rect x="469" y="300" width="12" height="11" fill="#afd1e7"/>
<rect x="481" y="300" width="11" height="11" fill="#aacfe5"/>
<rect x="492" y="300" width="12" height="11" fill="#95c5df"/>
<rect x="504" y="300" width="11" height="11" fill="#c2d9ee"/>
<rect x="515" y="300" width="11" height="11" fill="#b5d4e9"/>
<rect x="526" y="300" width="12" height="11" fill="#5ca4d0"/>
<rect x="538" y="300" width="11" height="11" fill="#56a0ce"/>
<rect x="549" y="300" width="12" height="11" fill="#68acd5"/>
<rect x="561" y="300" width="11" height="11" fill="#bcd7eb"/>
<rect x="572" y="300" width="12" height="11" fill="#a4cce3"/>
<rect x="584" y="300" width="11" height="11" fill="#c7dcef"/>
<rect x="595" y="300" width="12" height="11" fill="#b5d4e9"/>
<rect x="607" y="300" width="11" height="11" fill="#3989c1"/>
<rect x="618" y="300" width="12" height="11" fill="#cee0f2"/>
<rect x="630" y="300" width="11" height="11" fill="#afd1e7"/>
<rect x="423" y="311" width="12" height="11" fill="#ecf4fb"/>
<rect x="435" y="311" width="23" height="11" fill="#f4f9fe"/>
<rect x="458" y="311" width="11" height="11" fill="#ecf4fb"/>
<rect x="469" y="311" width="12" height="11" fill="#f4f9fe"/>
<rect x="481" y="311" width="11" height="11" fill="#f0f6fd"/>
<rect x="492" y="311" width="34" height="11" fill="#f4f9fe"/>
<rect x="526" y="311" width="12" height="11" fill="#f0f6fd"/>
<rect x="538" y="311" width="11" height="11" fill="#e8f1fa"/>
<rect x="549" y="311" width="12" height="11" fill="#e4eff9"/>
<rect x="561" y="311" width="23" height="11" fill="#f0f6fd"/>
<rect x="584" y="311" width="11" height="11" fill="#f4f9fe"/>
<rect x="595" y="311" width="12" height="11" fill="#e4eff9"/>
<rect x="607" y="311" width="11" height="11" fill="#ddeaf7"/>
<rect x="618" y="311" width="12" height="11" fill="#aacfe5"/>
<rect x="630" y="311" width="11" height="11" fill="#e4eff9"/>
<rect x="435" y="322" width="23" height="12" fill="#d9e8f5"/>
<rect x="458" y="322" width="11" height="12" fill="#f4f9fe"/>
<rect x="469" y="322" width="12" height="12" fill="#e4eff9"/>
<rect x="481" y="322" width="11" height="12" fill="#f0f6fd"/>
<rect x="492" y="322" width="12" height="12" fill="#e1edf8"/>
<rect x="504" y="322" width="57" height="12" fill="#f4f9fe"/>
<rect x="561" y="322" width="23" height="12" fill="#d9e8f5"/>
<rect x="584" y="322" width="11" height="12" fill="#e8f1fa"/>
<rect x="595" y="322" width="12" height="12" fill="#ddeaf7"/>
<rect x="607" y="322" width="11" height="12" fill="#cbdef1"/>
<rect x="618" y="322" width="12" height="12" fill="#7fb9da"/>
<rect x="630" y="322" width="11" height="12" fill="#cee0f2"/>
<rect x="458" y="334" width="11" height="11" fill="#e1edf8"/>
<rect x="469" y="334" width="12" height="11" fill="#f0f6fd"/>
<rect x="481" y="334" width="11" height="11" fill="#ddeaf7"/>
<rect x="492" y="334" width="12" height="11" fill="#f0f6fd"/>
<rect x="504" y="334" width="11" height="11" fill="#ddeaf7"/>
<rect x="515" y="334" width="11" height="11" fill="#f0f6fd"/>
<rect x="526" y="334" width="12" height="11" fill="#e1edf8"/>
<rect x="538" y="334" width="11" height="11" fill="#e4eff9"/>
<rect x="549" y="334" width="12" height="11" fill="#bcd7eb"/>
<rect x="561" y="334" width="11" height="11" fill="#f4f9fe"/>
<rect x="572" y="334" width="12" height="11" fill="#f0f6fd"/>
<rect x="584" y="334" width="11" height="11" fill="#f4f9fe"/>
<rect x="595" y="334" width="12" height="11" fill="#e8f1fa"/>
<rect x="607" y="334" width="11" height="11" fill="#cbdef1"/>
<rect x="618" y="334" width="12" height="11" fill="#cee0f2"/>
<rect x="630" y="334" width="11" height="11" fill="#e8f1fa"/>
<rect x="458" y="345" width="11" height="12" fill="#e1edf8"/>
<rect x="469" y="345" width="12" height="12" fill="#f4f9fe"/>
<rect x="481" y="345" width="11" height="12" fill="#d2e3f3"/>
<rect x="492" y="345" width="12" height="12" fill="#f0f6fd"/>
<rect x="504" y="345" width="11" height="12" fill="#cee0f2"/>
<rect x="515" y="345" width="11" height="12" fill="#f0f6fd"/>
<rect x="526" y="345" width="23" height="12" fill="#ddeaf7"/>
<rect x="549" y="345" width="12" height="12" fill="#c2d9ee"/>
<rect x="561" y="345" width="11" height="12" fill="#f0f6fd"/>
<rect x="572" y="345" width="23" height="12" fill="#f4f9fe"/>
<rect x="595" y="345" width="12" height="12" fill="#ddeaf7"/>
<rect x="607" y="345" width="11" height="12" fill="#b5d4e9"/>
<rect x="618" y="345" width="12" height="12" fill="#d9e8f5"/>
<rect x="630" y="345" width="11" height="12" fill="#e1edf8"/>
<rect x="469" y="357" width="12" height="11" fill="#e4eff9"/>
<rect x="481" y="357" width="11" height="11" fill="#f4f9fe"/>
<rect x="492" y="357" width="12" height="11" fill="#d9e8f5"/>
<rect x="504" y="357" width="11" height="11" fill="#f4f9fe"/>
<rect x="515" y="357" width="11" height="11" fill="#f0f6fd"/>
<rect x="526" y="357" width="23" height="11" fill="#f4f9fe"/>
<rect x="549" y="357" width="12" height="11" fill="#f0f6fd"/>
<rect x="561" y="357" width="11" height="11" fill="#e4eff9"/>
<rect x="572" y="357" width="12" height="11" fill="#e1edf8"/>
<rect x="584" y="357" width="11" height="11" fill="#e8f1fa"/>
<rect x="595" y="357" width="12" height="11" fill="#d2e3f3"/>
<rect x="607" y="357" width="11" height="11" fill="#aacfe5"/>
<rect x="618" y="357" width="12" height="11" fill="#7fb9da"/>
<rect x="630" y="357" width="11" height="11" fill="#cbdef1"/>
<rect x="481" y="368" width="11" height="12" fill="#e1edf8"/>
<rect x="492" y="368" width="12" height="12" fill="#f4f9fe"/>
<rect x="504" y="368" width="11" height="12" fill="#ddeaf7"/>
<rect x="515" y="368" width="11" height="12" fill="#e8f1fa"/>
<rect x="526" y="368" width="23" height="12" fill="#e4eff9"/>
<rect x="549" y="368" width="12" height="12" fill="#ddeaf7"/>
<rect x="561" y="368" width="11" height="12" fill="#e4eff9"/>
<rect x="572" y="368" width="12" height="12" fill="#f0f6fd"/>
<rect x="584" y="368" width="11" height="12" fill="#f4f9fe"/>
<rect x="595" y="368" width="12" height="12" fill="#f0f6fd"/>
<rect x="607" y="368" width="11" height="12" fill="#b5d4e9"/>
<rect x="618" y="368" width="12" height="12" fill="#d6e5f4"/>
<rect x="630" y="368" width="11" height="12" fill="#f0f6fd"/>
<rect x="492" y="380" width="12" height="11" fill="#d9e8f5"/>
<rect x="504" y="380" width="11" height="11" fill="#f4f9fe"/>
<rect x="515" y="380" width="46" height="11" fill="#f0f6fd"/>
<rect x="561" y="380" width="11" height="11" fill="#e4eff9"/>
<rect x="572" y="380" width="12" height="11" fill="#c7dcef"/>
<rect x="584" y="380" width="11" height="11" fill="#e8f1fa"/>
<rect x="595" y="380" width="12" height="11" fill="#cbdef1"/>
<rect x="607" y="380" width="11" height="11" fill="#bcd7eb"/>
<rect x="618" y="380" width="12" height="11" fill="#87bddc"/>
<rect x="630" y="380" width="11" height="11" fill="#cee0f2"/>
<rect x="504" y="391" width="11" height="12" fill="#d9e8f5"/>
<rect x="515" y="391" width="11" height="12" fill="#e4eff9"/>
<rect x="526" y="391" width="12" height="12" fill="#e1edf8"/>
<rect x="538" y="391" width="23" height="12" fill="#d9e8f5"/>
<rect x="561" y="391" width="11" height="12" fill="#e4eff9"/>
<rect x="572" y="391" width="12" height="12" fill="#f0f6fd"/>
<rect x="584" y="391" width="23" height="12" fill="#f4f9fe"/>
<rect x="607" y="391" width="11" height="12" fill="#a4cce3"/>
<rect x="618" y="391" width="12" height="12" fill="#e4eff9"/>
<rect x="630" y="391" width="11" height="12" fill="#f4f9fe"/>
<rect x="515" y="403" width="46" height="11" fill="#f0f6fd"/>
<rect x="561" y="403" width="11" height="11" fill="#e4eff9"/>
<rect x="572" y="403" width="12" height="11" fill="#c7dcef"/>
<rect x="584" y="403" width="11" height="11" fill="#e8f1fa"/>
<rect x="595" y="403" width="12" height="11" fill="#cbdef1"/>
<rect x="607" y="403" width="11" height="11" fill="#d6e5f4"/>
<rect x="618" y="403" width="12" height="11" fill="#87bddc"/>
<rect x="630" y="403" width="11" height="11" fill="#d6e5f4"/>
<rect x="526" y="414" width="12" height="11" fill="#f4f9fe"/>
<rect x="538" y="414" width="34" height="11" fill="#f0f6fd"/>
<rect x="572" y="414" width="12" height="11" fill="#e8f1fa"/>
<rect x="584" y="414" width="11" height="11" fill="#f0f6fd"/>
<rect x="595" y="414" width="12" height="11" fill="#ddeaf7"/>
<rect x="607" y="414" width="11" height="11" fill="#d9e8f5"/>
<rect x="618" y="414" width="12" height="11" fill="#87bddc"/>
<rect x="630" y="414" width="11" height="11" fill="#d6e5f4"/>
<rect x="538" y="425" width="11" height="12" fill="#f4f9fe"/>
<rect x="549" y="425" width="12" height="12" fill="#f0f6fd"/>
<rect x="561" y="425" width="23" height="12" fill="#ddeaf7"/>
<rect x="584" y="425" width="11" height="12" fill="#e8f1fa"/>
<rect x="595" y="425" width="12" height="12" fill="#d2e3f3"/>
<rect x="607" y="425" width="11" height="12" fill="#a4cce3"/>
<rect x="618" y="425" width="12" height="12" fill="#7fb9da"/>
<rect x="630" y="425" width="11" height="12" fill="#cbdef1"/>
<rect x="549" y="437" width="12" height="11" fill="#ecf4fb"/>
<rect x="561" y="437" width="11" height="11" fill="#e1edf8"/>
<rect x="572" y="437" width="12" height="11" fill="#ddeaf7"/>
<rect x="584" y="437" width="11" height="11" fill="#e8f1fa"/>
<rect x="595" y="437" width="12" height="11" fill="#cee0f2"/>
<rect x="607" y="437" width="11" height="11" fill="#87bddc"/>
<rect x="618" y="437" width="12" height="11" fill="#7fb9da"/>
<rect x="630" y="437" width="11" height="11" fill="#c7dcef"/>
<rect x="561" y="448" width="11" height="12" fill="#c2d9ee"/>
<rect x="572" y="448" width="12" height="12" fill="#afd1e7"/>
<rect x="584" y="448" width="11" height="12" fill="#e1edf8"/>
<rect x="595" y="448" width="12" height="12" fill="#d6e5f4"/>
<rect x="607" y="448" width="11" height="12" fill="#c7dcef"/>
<rect x="618" y="448" width="12" height="12" fill="#7fb9da"/>
<rect x="630" y="448" width="11" height="12" fill="#cbdef1"/>
<rect x="572" y="460" width="35" height="11" fill="#e8f1fa"/>
<rect x="607" y="460" width="11" height="11" fill="#afd1e7"/>
<rect x="618" y="460" width="12" height="11" fill="#d2e3f3"/>
<rect x="630" y="460" width="11" height="11" fill="#e4eff9"/>
<rect x="584" y="471" width="11" height="12" fill="#f0f6fd"/>
<rect x="595" y="471" width="12" height="12" fill="#d2e3f3"/>
<rect x="607" y="471" width="11" height="12" fill="#87bddc"/>
<rect x="618" y="471" width="12" height="12" fill="#cbdef1"/>
<rect x="630" y="471" width="11" height="12" fill="#d2e3f3"/>
<rect x="595" y="483" width="12" height="11" fill="#d9e8f5"/>
<rect x="607" y="483" width="11" height="11" fill="#cbdef1"/>
<rect x="618" y="483" width="12" height="11" fill="#a4cce3"/>
<rect x="630" y="483" width="11" height="11" fill="#d9e8f5"/>
<rect x="607" y="494" width="23" height="12" fill="#f0f6fd"/>
<rect x="630" y="494" width="11" height="12" fill="#f4f9fe"/>
<rect x="618" y="506" width="23" height="11" fill="#f4f9fe"/>
<rect x="630" y="517" width="11" height="12" fill="#f4f9fe"/>
</g>
<rect x="680" y="60" width="16" height="480" fill="url(#cb)"/>
<g shape-rendering="crispEdges" fill="#000" opacity="0.72"><rect x="166" y="61" width="1" height="5"/><rect x="166" y="66" width="1" height="1" opacity="0.6"/><rect x="166" y="535" width="1" height="5"/><rect x="166" y="534" width="1" height="1" opacity="0.6"/><rect x="161" y="66" width="5" height="1"/><rect x="166" y="66" width="1" height="1" opacity="0.6"/><rect x="635" y="66" width="5" height="1"/><rect x="634" y="66" width="1" height="1" opacity="0.6"/><rect x="177" y="61" width="1" height="5"/><rect x="177" y="66" width="1" height="1" opacity="0.6"/><rect x="177" y="535" width="1" height="5"/><rect x="177" y="534" width="1" height="1" opacity="0.6"/><rect x="161" y="77" width="5" height="1"/><rect x="166" y="77" width="1" height="1" opacity="0.6"/><rect x="635" y="77" width="5" height="1"/><rect x="634" y="77" width="1" height="1" opacity="0.6"/><rect x="189" y="61" width="1" height="5"/><rect x="189" y="66" width="1" height="1" opacity="0.6"/><rect x="189" y="535" width="1" height="5"/><rect x="189" y="534" width="1" height="1" opacity="0.6"/><rect x="161" y="89" width="5" height="1"/><rect x="166" y="89" width="1" height="1" opacity="0.6"/><rect x="635" y="89" width="5" height="1"/><rect x="634" y="89" width="1" height="1" opacity="0.6"/><rect x="200" y="61" width="1" height="5"/><rect x="200" y="66" width="1" height="1" opacity="0.6"/><rect x="200" y="535" width="1" height="5"/><rect x="200" y="534" width="1" height="1" opacity="0.6"/><rect x="161" y="100" width="5" height="1"/><rect x="166" y="100" width="1" height="1" opacity="0.6"/><rect x="635" y="100" width="5" height="1"/><rect x="634" y="100" width="1" height="1" opacity="0.6"/><rect x="211" y="61" width="1" height="5"/><rect x="211" y="66" width="1" height="1" opacity="0.6"/><rect x="211" y="535" width="1" height="5"/><rect x="211" y="534" width="1" height="1" opacity="0.6"/><rect x="161" y="111" width="5" height="1"/><rect x="166" y="111" width="1" height="1" opacity="0.6"/><rect x="635" y="111" width="5" height="1"/><rect x="634" y="111" width="1" height="1" opacity="0.6"/><rect x="223" y="61" width="1" height="5"/><rect x="223" y="66" width="1" height="1" opacity="0.6"/><rect x="223" y="535" width="1" height="5"/><rect x="223" y="534" width="1" height="1" opacity="0.6"/><rect x="161" y="123" width="5" height="1"/><rect x="166" y="123" width="1" height="1" opacity="0.6"/><rect x="635" y="123" width="5" height="1"/><rect x="634" y="123" width="1" height="1" opacity="0.6"/><rect x="234" y="61" width="1" height="5"/><rect x="234" y="66" width="1" height="1" opacity="0.6"/><rect x="234" y="535" width="1" height="5"/><rect x="234" y="534" width="1" height="1" opacity="0.6"/><rect x="161" y="134" width="5" height="1"/><rect x="166" y="134" width="1" height="1" opacity="0.6"/><rect x="635" y="134" width="5" height="1"/><rect x="634" y="134" width="1" height="1" opacity="0.6"/><rect x="246" y="61" width="1" height="5"/><rect x="246" y="66" width="1" height="1" opacity="0.6"/><rect x="246" y="535" width="1" height="5"/><rect x="246" y="534" width="1" height="1" opacity="0.6"/><rect x="161" y="146" width="5" height="1"/><rect x="166" y="146" width="1" height="1" opacity="0.6"/><rect x="635" y="146" width="5" height="1"/><rect x="634" y="146" width="1" height="1" opacity="0.6"/><rect x="257" y="61" width="1" height="5"/><rect x="257" y="66" width="1" height="1" opacity="0.6"/><rect x="257" y="535" width="1" height="5"/><rect x="257" y="534" width="1" height="1" opacity="0.6"/><rect x="161" y="157" width="5" height="1"/><rect x="166" y="157" width="1" height="1" opacity="0.6"/><rect x="635" y="157" width="5" height="1"/><rect x="634" y="157" width="1" height="1" opacity="0.6"/><rect x="269" y="61" width="1" height="5"/><rect x="269" y="66" width="1" height="1" opacity="0.6"/><rect x="269" y="535" width="1" height="5"/><rect x="269" y="534" width="1" height="1" opacity="0.6"/><rect x="161" y="169" width="5" height="1"/><rect x="166" y="169" width="1" height="1" opacity="0.6"/><rect x="635" y="169" width="5" height="1"/><rect x="634" y="169" width="1" height="1" opacity="0.6"/><rect x="280" y="61" width="1" height="5"/><rect x="280" y="66" width="1" height="1" opacity="0.6"/><rect x="280" y="535" width="1" height="5"/><rect x="280" y="534" width="1" height="1" opacity="0.6"/><rect x="161" y="180" width="5" height="1"/><rect x="166" y="180" width="1" height="1" opacity="0.6"/><rect x="635" y="180" width="5" height="1"/><rect x="634" y="180" width="1" height="1" opacity="0.6"/><rect x="291" y="61" width="1" height="5"/><rect x="291" y="66" width="1" height="1" opacity="0.6"/><rect x="291" y="535" width="1" height="5"/><rect x="291" y="534" width="1" height="1" opacity="0.6"/><rect x="161" y="191" width="5" height="1"/><rect x="166" y="191" width="1" height="1" opacity="0.6"/><rect x="635" y="191" width="5" height="1"/><rect x="634" y="191" width="1" height="1" opacity="0.6"/><rect x="303" y="61" width="1" height="5"/><rect x="303" y="66" width="1" height="1" opacity="0.6"/><rect x="303" y="535" width="1" height="5"/><rect x="303" y="534" width="1" height="1" opacity="0.6"/><rect x="161" y="203" width="5" height="1"/><rect x="166" y="203" width="1" height="1" opacity="0.6"/><rect x="635" y="203" width="5" height="1"/><rect x="634" y="203" width="1" height="1" opacity="0.6"/><rect x="314" y="61" width="1" height="5"/><rect x="314" y="66" width="1" height="1" opacity="0.6"/><rect x="314" y="535" width="1" height="5"/><rect x="314" y="534" width="1" height="1" opacity="0.6"/><rect x="161" y="214" width="5" height="1"/><rect x="166" y="214" width="1" height="1" opacity="0.6"/><rect x="635" y="214" width="5" height="1"/><rect x="634" y="214" width="1" height="1" opacity="0.6"/><rect x="326" y="61" width="1" height="5"/><rect x="326" y="66" width="1" height="1" opacity="0.6"/><rect x="326" y="535" width="1" height="5"/><rect x="326" y="534" width="1" height="1" opacity="0.6"/><rect x="161" y="226" width="5" height="1"/><rect x="166" y="226" width="1" height="1" opacity="0.6"/><rect x="635" y="226" width="5" height="1"/><rect x="634" y="226" width="1" height="1" opacity="0.6"/><rect x="337" y="61" width="1" height="5"/><rect x="337" y="66" width="1" height="1" opacity="0.6"/><rect x="337" y="535" width="1" height="5"/><rect x="337" y="534" width="1" height="1" opacity="0.6"/><rect x="161" y="237" width="5" height="1"/><rect x="166" y="237" width="1" height="1" opacity="0.6"/><rect x="635" y="237" width="5" height="1"/><rect x="634" y="237" width="1" height="1" opacity="0.6"/><rect x="349" y="61" width="1" height="5"/><rect x="349" y="66" width="1" height="1" opacity="0.6"/><rect x="349" y="535" width="1" height="5"/><rect x="349" y="534" width="1" height="1" opacity="0.6"/><rect x="161" y="249" width="5" height="1"/><rect x="166" y="249" width="1" height="1" opacity="0.6"/><rect x="635" y="249" width="5" height="1"/><rect x="634" y="249" width="1" height="1" opacity="0.6"/><rect x="360" y="61" width="1" height="5"/><rect x="360" y="66" width="1" height="1" opacity="0.6"/><rect x="360" y="535" width="1" height="5"/><rect x="360" y="534" width="1" height="1" opacity="0.6"/><rect x="161" y="260" width="5" height="1"/><rect x="166" y="260" width="1" height="1" opacity="0.6"/><rect x="635" y="260" width="5" height="1"/><rect x="634" y="260" width="1" height="1" opacity="0.6"/><rect x="371" y="61" width="1" height="5"/><rect x="371" y="66" width="1" height="1" opacity="0.6"/><rect x="371" y="535" width="1" height="5"/><rect x="371" y="534" width="1" height="1" opacity="0.6"/><rect x="161" y="271" width="5" height="1"/><rect x="166" y="271" width="1" height="1" opacity="0.6"/><rect x="635" y="271" width="5" height="1"/><rect x="634" y="271" width="1" height="1" opacity="0.6"/><rect x="383" y="61" width="1" height="5"/><rect x="383" y="66" width="1" height="1" opacity="0.6"/><rect x="383" y="535" width="1" height="5"/><rect x="383" y="534" width="1" height="1" opacity="0.6"/><rect x="161" y="283" width="5" height="1"/><rect x="166" y="283" width="1" height="1" opacity="0.6"/><rect x="635" y="283" width="5" height="1"/><rect x="634" y="283" width="1" height="1" opacity="0.6"/><rect x="394" y="61" width="1" height="5"/><rect x="394" y="66" width="1" height="1" opacity="0.6"/><rect x="394" y="535" width="1" height="5"/><rect x="394" y="534" width="1" height="1" opacity="0.6"/><rect x="161" y="294" width="5" height="1"/><rect x="166" y="294" width="1" height="1" opacity="0.6"/><rect x="635" y="294" width="5" height="1"/><rect x="634" y="294" width="1" height="1" opacity="0.6"/><rect x="406" y="61" width="1" height="5"/><rect x="406" y="66" width="1" height="1" opacity="0.6"/><rect x="406" y="535" width="1" height="5"/><rect x="406" y="534" width="1" height="1" opacity="0.6"/><rect x="161" y="306" width="5" height="1"/><rect x="166" y="306" width="1" height="1" opacity="0.6"/><rect x="635" y="306" width="5" height="1"/><rect x="634" y="306" width="1" height="1" opacity="0.6"/><rect x="417" y="61" width="1" height="5"/><rect x="417" y="66" width="1" height="1" opacity="0.6"/><rect x="417" y="535" width="1" height="5"/><rect x="417" y="534" width="1" height="1" opacity="0.6"/><rect x="161" y="317" width="5" height="1"/><rect x="166" y="317" width="1" height="1" opacity="0.6"/><rect x="635" y="317" width="5" height="1"/><rect x="634" y="317" width="1" height="1" opacity="0.6"/><rect x="429" y="61" width="1" height="5"/><rect x="429" y="66" width="1" height="1" opacity="0.6"/><rect x="429" y="535" width="1" height="5"/><rect x="429" y="534" width="1" height="1" opacity="0.6"/><rect x="161" y="329" width="5" height="1"/><rect x="166" y="329" width="1" height="1" opacity="0.6"/><rect x="635" y="329" width="5" height="1"/><rect x="634" y="329" width="1" height="1" opacity="0.6"/><rect x="440" y="61" width="1" height="5"/><rect x="440" y="66" width="1" height="1" opacity="0.6"/><rect x="440" y="535" width="1" height="5"/><rect x="440" y="534" width="1" height="1" opacity="0.6"/><rect x="161" y="340" width="5" height="1"/><rect x="166" y="340" width="1" height="1" opacity="0.6"/><rect x="635" y="340" width="5" height="1"/><rect x="634" y="340" width="1" height="1" opacity="0.6"/><rect x="451" y="61" width="1" height="5"/><rect x="451" y="66" width="1" height="1" opacity="0.6"/><rect x="451" y="535" width="1" height="5"/><rect x="451" y="534" width="1" height="1" opacity="0.6"/><rect x="161" y="351" width="5" height="1"/><rect x="166" y="351" width="1" height="1" opacity="0.6"/><rect x="635" y="351" width="5" height="1"/><rect x="634" y="351" width="1" height="1" opacity="0.6"/><rect x="463" y="61" width="1" height="5"/><rect x="463" y="66" width="1" height="1" opacity="0.6"/><rect x="463" y="535" width="1" height="5"/><rect x="463" y="534" width="1" height="1" opacity="0.6"/><rect x="161" y="363" width="5" height="1"/><rect x="166" y="363" width="1" height="1" opacity="0.6"/><rect x="635" y="363" width="5" height="1"/><rect x="634" y="363" width="1" height="1" opacity="0.6"/><rect x="474" y="61" width="1" height="5"/><rect x="474" y="66" width="1" height="1" opacity="0.6"/><rect x="474" y="535" width="1" height="5"/><rect x="474" y="534" width="1" height="1" opacity="0.6"/><rect x="161" y="374" width="5" height="1"/><rect x="166" y="374" width="1" height="1" opacity="0.6"/><rect x="635" y="374" width="5" height="1"/><rect x="634" y="374" width="1" height="1" opacity="0.6"/><rect x="486" y="61" width="1" height="5"/><rect x="486" y="66" width="1" height="1" opacity="0.6"/><rect x="486" y="535" width="1" height="5"/><rect x="486" y="534" width="1" height="1" opacity="0.6"/><rect x="161" y="386" width="5" height="1"/><rect x="166" y="386" width="1" height="1" opacity="0.6"/><rect x="635" y="386" width="5" height="1"/><rect x="634" y="386" width="1" height="1" opacity="0.6"/><rect x="497" y="61" width="1" height="5"/><rect x="497" y="66" width="1" height="1" opacity="0.6"/><rect x="497" y="535" width="1" height="5"/><rect x="497" y="534" width="1" height="1" opacity="0.6"/><rect x="161" y="397" width="5" height="1"/><rect x="166" y="397" width="1" height="1" opacity="0.6"/><rect x="635" y="397" width="5" height="1"/><rect x="634" y="397" width="1" height="1" opacity="0.6"/><rect x="509" y="61" width="1" height="5"/><rect x="509" y="66" width="1" height="1" opacity="0.6"/><rect x="509" y="535" width="1" height="5"/><rect x="509" y="534" width="1" height="1" opacity="0.6"/><rect x="161" y="409" width="5" height="1"/><rect x="166" y="409" width="1" height="1" opacity="0.6"/><rect x="635" y="409" width="5" height="1"/><rect x="634" y="409" width="1" height="1" opacity="0.6"/><rect x="520" y="61" width="1" height="5"/><rect x="520" y="66" width="1" height="1" opacity="0.6"/><rect x="520" y="535" width="1" height="5"/><rect x="520" y="534" width="1" height="1" opacity="0.6"/><rect x="161" y="420" width="5" height="1"/><rect x="166" y="420" width="1" height="1" opacity="0.6"/><rect x="635" y="420" width="5" height="1"/><rect x="634" y="420" width="1" height="1" opacity="0.6"/><rect x="531" y="61" width="1" height="5"/><rect x="531" y="66" width="1" height="1" opacity="0.6"/><rect x="531" y="535" width="1" height="5"/><rect x="531" y="534" width="1" height="1" opacity="0.6"/><rect x="161" y="431" width="5" height="1"/><rect x="166" y="431" width="1" height="1" opacity="0.6"/><rect x="635" y="431" width="5" height="1"/><rect x="634" y="431" width="1" height="1" opacity="0.6"/><rect x="543" y="61" width="1" height="5"/><rect x="543" y="66" width="1" height="1" opacity="0.6"/><rect x="543" y="535" width="1" height="5"/><rect x="543" y="534" width="1" height="1" opacity="0.6"/><rect x="161" y="443" width="5" height="1"/><rect x="166" y="443" width="1" height="1" opacity="0.6"/><rect x="635" y="443" width="5" height="1"/><rect x="634" y="443" width="1" height="1" opacity="0.6"/><rect x="554" y="61" width="1" height="5"/><rect x="554" y="66" width="1" height="1" opacity="0.6"/><rect x="554" y="535" width="1" height="5"/><rect x="554" y="534" width="1" height="1" opacity="0.6"/><rect x="161" y="454" width="5" height="1"/><rect x="166" y="454" width="1" height="1" opacity="0.6"/><rect x="635" y="454" width="5" height="1"/><rect x="634" y="454" width="1" height="1" opacity="0.6"/><rect x="566" y="61" width="1" height="5"/><rect x="566" y="66" width="1" height="1" opacity="0.6"/><rect x="566" y="535" width="1" height="5"/><rect x="566" y="534" width="1" height="1" opacity="0.6"/><rect x="161" y="466" width="5" height="1"/><rect x="166" y="466" width="1" height="1" opacity="0.6"/><rect x="635" y="466" width="5" height="1"/><rect x="634" y="466" width="1" height="1" opacity="0.6"/><rect x="577" y="61" width="1" height="5"/><rect x="577" y="66" width="1" height="1" opacity="0.6"/><rect x="577" y="535" width="1" height="5"/><rect x="577" y="534" width="1" height="1" opacity="0.6"/><rect x="161" y="477" width="5" height="1"/><rect x="166" y="477" width="1" height="1" opacity="0.6"/><rect x="635" y="477" width="5" height="1"/><rect x="634" y="477" width="1" height="1" opacity="0.6"/><rect x="589" y="61" width="1" height="5"/><rect x="589" y="66" width="1" height="1" opacity="0.6"/><rect x="589" y="535" width="1" height="5"/><rect x="589" y="534" width="1" height="1" opacity="0.6"/><rect x="161" y="489" width="5" height="1"/><rect x="166" y="489" width="1" height="1" opacity="0.6"/><rect x="635" y="489" width="5" height="1"/><rect x="634" y="489" width="1" height="1" opacity="0.6"/><rect x="600" y="61" width="1" height="5"/><rect x="600" y="66" width="1" height="1" opacity="0.6"/><rect x="600" y="535" width="1" height="5"/><rect x="600" y="534" width="1" height="1" opacity="0.6"/><rect x="161" y="500" width="5" height="1"/><rect x="166" y="500" width="1" height="1" opacity="0.6"/><rect x="635" y="500" width="5" height="1"/><rect x="634" y="500" width="1" height="1" opacity="0.6"/><rect x="611" y="61" width="1" height="5"/><rect x="611" y="66" width="1" height="1" opacity="0.6"/><rect x="611" y="535" width="1" height="5"/><rect x="611" y="534" width="1" height="1" opacity="0.6"/><rect x="161" y="511" width="5" height="1"/><rect x="166" y="511" width="1" height="1" opacity="0.6"/><rect x="635" y="511" width="5" height="1"/><rect x="634" y="511" width="1" height="1" opacity="0.6"/><rect x="623" y="61" width="1" height="5"/><rect x="623" y="66" width="1" height="1" opacity="0.6"/><rect x="623" y="535" width="1" height="5"/><rect x="623" y="534" width="1" height="1" opacity="0.6"/><rect x="161" y="523" width="5" height="1"/><rect x="166" y="523" width="1" height="1" opacity="0.6"/><rect x="635" y="523" width="5" height="1"/><rect x="634" y="523" width="1" height="1" opacity="0.6"/><rect x="634" y="61" width="1" height="5"/><rect x="634" y="66" width="1" height="1" opacity="0.6"/><rect x="634" y="535" width="1" height="5"/><rect x="634" y="534" width="1" height="1" opacity="0.6"/><rect x="161" y="534" width="5" height="1"/><rect x="166" y="534" width="1" height="1" opacity="0.6"/><rect x="635" y="534" width="5" height="1"/><rect x="634" y="534" width="1" height="1" opacity="0.6"/></g>
<g shape-rendering="crispEdges" fill="#000" opacity="0.72"><rect x="691" y="486" width="5" height="1"/><rect x="690" y="486" width="1" height="1" opacity="0.6"/><rect x="691" y="431" width="5" height="1"/><rect x="690" y="431" width="1" height="1" opacity="0.6"/><rect x="691" y="377" width="5" height="1"/><rect x="690" y="377" width="1" height="1" opacity="0.6"/><rect x="691" y="323" width="5" height="1"/><rect x="690" y="323" width="1" height="1" opacity="0.6"/><rect x="691" y="268" width="5" height="1"/><rect x="690" y="268" width="1" height="1" opacity="0.6"/><rect x="691" y="214" width="5" height="1"/><rect x="690" y="214" width="1" height="1" opacity="0.6"/><rect x="691" y="160" width="5" height="1"/><rect x="690" y="160" width="1" height="1" opacity="0.6"/><rect x="691" y="106" width="5" height="1"/><rect x="690" y="106" width="1" height="1" opacity="0.6"/></g>
<rect x="160.5" y="60.5" width="480" height="480" fill="none" stroke="#000" stroke-width="1.39"/>
<rect x="680.5" y="60.5" width="16" height="480" fill="none" stroke="#000" stroke-width="1.39"/>
<g>
<text x="166.66" y="54" text-anchor="middle">C1'</text>
<text x="155.20" y="72" text-anchor="end">C1'</text>
<text x="223.56" y="54" text-anchor="middle">C4'</text>
<text x="155.20" y="129" text-anchor="end">C4'</text>
<text x="280.00" y="54" text-anchor="middle">N1</text>
<text x="155.20" y="186" text-anchor="end">N1</text>
<text x="337.44" y="54" text-anchor="middle">O2'</text>
<text x="155.20" y="243" text-anchor="end">O2'</text>
<text x="394.99" y="54" text-anchor="middle">OP2</text>
<text x="155.20" y="300" text-anchor="end">OP2</text>
<text x="451.53" y="54" text-anchor="middle">C3'</text>
<text x="155.20" y="357" text-anchor="end">C3'</text>
<text x="508.47" y="54" text-anchor="middle">C6</text>
<text x="155.20" y="415" text-anchor="end">C6</text>
<text x="566.41" y="54" text-anchor="middle">O2'</text>
<text x="155.20" y="472" text-anchor="end">O2'</text>
<text x="623.16" y="54" text-anchor="middle">OP2</text>
<text x="155.20" y="529" text-anchor="end">OP2</text>
<text x="701" y="546">0.00</text>
<text x="701" y="492">0.06</text>
<text x="701" y="437">0.12</text>
<text x="701" y="383">0.18</text>
<text x="701" y="329">0.24</text>
<text x="701" y="274">0.30</text>
<text x="701" y="220">0.36</text>
<text x="701" y="166">0.42</text>
<text x="701" y="112">0.48</text>
</g>
</svg>
</body></html>
